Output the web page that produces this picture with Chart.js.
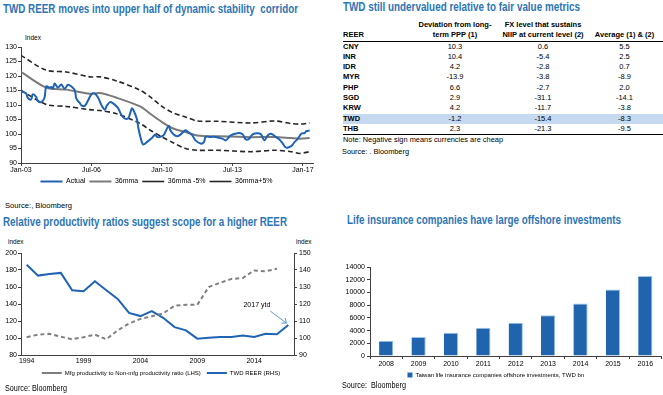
<!DOCTYPE html>
<html>
<head>
<meta charset="utf-8">
<script src="https://cdn.jsdelivr.net/npm/chart.js@4.4.1/dist/chart.umd.min.js"></script>
<style>
  body { margin: 0; width: 663px; height: 395px; background: #fff; position: relative; overflow: hidden;
         font-family: 'Liberation Sans', Arial, sans-serif; color: #000; }
  .t { position: absolute; white-space: nowrap; transform-origin: 0 50%; }
  .title { font: bold 13px 'Liberation Sans Narrow', 'Liberation Sans', Arial, sans-serif; color: #2e75b6; line-height: 14px; }
  .small { font-size: 7px; line-height: 8px; }
  .src { font-size: 8px; line-height: 9px; }
  canvas { position: absolute; }
  .row { position: absolute; left: 343px; width: 320px; font-size: 7.5px; }
  .row span { position: absolute; top: 0; }
</style>
</head>
<body>

<div class="t title" style="left:3px;top:2px" data-w="295">TWD REER moves into upper half of dynamic stability&nbsp; corridor</div>
<div class="t small" style="left:25px;top:34px;font-size:6.5px">Index</div>
<canvas id="reer" width="330" height="156" style="left:0;top:39px"></canvas>
<div class="t src" style="left:5px;top:201px" data-w="67">Source:, Bloomberg</div>

<div class="t title" style="left:343px;top:0px;font-size:12px" data-w="237">TWD still undervalued relative to fair value metrics</div>
<div id="table"></div>
<div class="t src" style="left:343px;top:134.5px" data-w="160">Note: Negative sign means currencies are cheap</div>
<div class="t src" style="left:341.5px;top:146.5px" data-w="67">Source: . Bloomberg</div>

<div class="t title" style="left:3px;top:214.5px" data-w="284">Relative productivity ratios suggest scope for a higher REER</div>
<div class="t small" style="left:8px;top:238px;font-size:6.5px">index</div>
<div class="t small" style="left:296px;top:238px;font-size:6.5px">index</div>
<canvas id="productivity" width="322" height="140" style="left:0;top:246px"></canvas>
<div class="t src" style="left:5px;top:383px;font-size:9px;line-height:10px" data-w="62">Source: Bloomberg</div>

<div class="t title" style="left:346.5px;top:213px;font-size:12px" data-w="274">Life insurance companies have large offshore investments</div>
<canvas id="insurance" width="333" height="129" style="left:330px;top:259px"></canvas>
<div class="t src" style="left:341.5px;top:380.5px;font-size:8.5px;line-height:9px" data-w="64">Source:&nbsp; Bloomberg</div>

<script>
// REER monthly (months since Jan-03)
const reerMonths = [0, 1, 3, 4, 6, 7, 9, 10, 12, 14, 15, 17, 18, 19, 20, 22, 24, 26, 28, 30, 32, 33, 35, 36, 38, 40,
  42, 44, 46, 48, 50, 51, 53, 55, 57, 58, 60, 62, 64, 66, 67, 69, 70, 72, 73, 75, 78, 80, 81, 83, 85, 86, 88, 89,
  91, 93, 95, 97, 98, 100, 102, 104, 107, 109, 110, 113, 116, 120, 122, 125, 129, 132, 134, 136, 138, 141, 143,
  145, 147, 149, 152, 154, 156, 158, 161, 163, 165, 167, 169, 170, 172];
const reerActual = [114.8, 114.5, 114.0, 112.5, 111.9, 113.7, 112.8, 111.4, 111.0, 112.5, 116.4, 116.0, 116.2, 115.6,
  117.4, 116.0, 117.1, 115.6, 117.0, 116.4, 115.1, 112.2, 110.7, 109.9, 109.7, 111.6, 113.7, 113.9, 112.5, 109.9,
  108.4, 109.6, 111.0, 110.5, 109.5, 108.8, 106.4, 105.3, 105.5, 108.8, 108.2, 105.3, 101.9, 97.2, 96.4, 97.2, 98.6,
  99.8, 99.0, 99.0, 99.6, 100.7, 102.8, 101.3, 99.8, 99.2, 99.8, 100.9, 101.3, 100.5, 99.6, 97.8, 96.7, 97.2, 99.0,
  99.0, 99.0, 98.4, 97.8, 99.5, 100.3, 99.9, 98.1, 98.4, 99.9, 100.3, 99.9, 97.8, 99.5, 100.1, 98.9, 98.1, 96.7,
  95.3, 95.8, 97.2, 98.4, 100.1, 100.3, 101.0, 101.2];
const bandMonths = [0, 15, 27, 41, 47, 57, 71, 77, 84, 91, 98, 105, 117, 137, 151, 161, 166, 172];
const reer36mma = [121.4, 116.0, 115.3, 113.9, 114.1, 112.5, 109.5, 107.0, 104.1, 101.8, 100.7, 99.5, 99.2, 98.9, 99.0, 98.6, 98.4, 98.6];
const reerLower = [115.0, 110.2, 109.5, 108.4, 108.1, 107.0, 103.6, 101.3, 99.0, 96.9, 95.0, 94.4, 94.4, 93.9, 94.4, 93.9, 93.3, 93.9];
const reerUpper = [127.1, 122.0, 121.4, 119.7, 119.7, 118.3, 115.1, 112.8, 109.5, 107.2, 105.9, 104.5, 104.4, 103.8, 104.5, 103.6, 103.4, 103.8];
const reerTickMonths = [0, 42, 84, 126, 168];
const reerTickLabels = ['Jan-03', 'Jul-06', 'Jan-10', 'Jul-13', 'Jan-17'];

// fair value table
const currencies = ['CNY', 'INR', 'IDR', 'MYR', 'PHP', 'SGD', 'KRW', 'TWD', 'THB'];
const pppDeviation = [10.3, 10.4, 4.2, -13.9, 6.6, 2.9, 4.2, -1.2, 2.3];
const niipLevel = [0.6, -5.4, -2.8, -3.8, -2.7, -31.1, -11.7, -15.4, -21.3];
const averageDev = [5.5, 2.5, 0.7, -8.9, 2.0, -14.1, -3.8, -8.3, -9.5];

// productivity vs REER, annual
const years = [1994, 1995, 1996, 1997, 1998, 1999, 2000, 2001, 2002, 2003, 2004, 2005, 2006, 2007, 2008,
  2009, 2010, 2011, 2012, 2013, 2014, 2015, 2016, 2017];
const productivityRatio = [101, 104, 105, 101.5, 98.5, 101, 104, 98.5, 109, 117, 122.5, 125.5, 129, 138, 139,
  139, 160, 165, 169.5, 170.5, 179.5, 178.5, 181.5, null];
const reerAnnual = [143.1, 136.7, 137.7, 138.3, 128.1, 127.5, 133.4, 128.1, 123.0, 114.8, 112.9, 115.8, 111.9,
  106.4, 104.5, 99.6, 100.2, 100.6, 100.6, 101.5, 100.6, 102.5, 102.2, 107.6];

// life insurers offshore investments, TWD bn
const insuranceYears = ['2008', '2009', '2010', '2011', '2012', '2013', '2014', '2015', '2016'];
const offshoreInvestments = [2400, 3000, 3650, 4450, 5250, 6400, 8250, 10450, 12600];

const narrow = "'Liberation Sans Narrow', 'Liberation Sans', Arial, sans-serif";
const plain = "'Liberation Sans', Arial, sans-serif";
const axisColor = '#404040';
const toPoints = (xs, ys) => xs.map((x, i) => ({ x: x, y: ys[i] }));

// table
let html = '';
html += '<div class="row" style="top:19.5px;height:21px;border-bottom:1.5px solid #000;font-weight:bold;line-height:10.5px">'
  + '<span style="left:0;top:10.5px">REER</span>'
  + '<span style="left:67px;width:90px;text-align:center">Deviation from long-<br>term PPP (1)</span>'
  + '<span style="left:157px;width:86px;text-align:center">FX level that sustains<br>NIIP at current level (2)</span>'
  + '<span style="left:243px;width:77px;text-align:center;top:10.5px">Average (1) &amp; (2)</span></div>';
currencies.forEach((c, i) => {
  const top = 41.5 + i * 10.33;
  const bg = c === 'TWD' ? 'background:#c5d9f1;' : '';
  const last = i === currencies.length - 1 ? 'border-bottom:1px solid #000;' : '';
  html += '<div class="row" style="top:' + top + 'px;height:10.33px;line-height:10.33px;' + bg + last + '">'
    + '<span style="left:0;font-weight:bold">' + c + '</span>'
    + '<span style="left:67px;width:90px;text-align:center">' + pppDeviation[i].toFixed(1) + '</span>'
    + '<span style="left:157px;width:86px;text-align:center">' + niipLevel[i].toFixed(1) + '</span>'
    + '<span style="left:243px;width:77px;text-align:center">' + averageDev[i].toFixed(1) + '</span></div>';
});
document.getElementById('table').innerHTML = html;

// REER corridor chart
new Chart(document.getElementById('reer'), {
  type: 'line',
  data: {
    datasets: [
      { label: 'Actual', data: toPoints(reerMonths, reerActual), borderColor: '#1f63b5', borderWidth: 2, tension: 0.35 },
      { label: '36mma', data: toPoints(bandMonths, reer36mma), borderColor: '#7a7a7a', borderWidth: 2, tension: 0.3 },
      { label: '36mma -5%', data: toPoints(bandMonths, reerLower), borderColor: '#262626', borderWidth: 1.6, borderDash: [5, 3], tension: 0.3 },
      { label: '36mma+5%', data: toPoints(bandMonths, reerUpper), borderColor: '#262626', borderWidth: 1.6, borderDash: [5, 3], tension: 0.3 }
    ]
  },
  options: {
    responsive: false, animation: false, events: [],
    layout: { padding: { top: 8, right: 17, left: 0, bottom: 0 } },
    elements: { point: { radius: 0 } },
    plugins: {
      tooltip: { enabled: false },
      legend: {
        position: 'bottom',
        labels: { font: { size: 7, family: narrow }, color: '#000', padding: 4, usePointStyle: true, pointStyle: 'line', pointStyleWidth: 22, boxHeight: 7 }
      }
    },
    scales: {
      x: {
        type: 'linear', min: 0, max: 174,
        afterFit: (s) => { s.height = 11; },
        afterBuildTicks: (s) => { s.ticks = reerTickMonths.map((v) => ({ value: v })); },
        grid: { drawOnChartArea: false, tickLength: 3, color: axisColor },
        border: { color: axisColor },
        ticks: { maxRotation: 0, padding: 0, font: { size: 7, family: narrow }, color: '#000',
          callback: (v) => reerTickLabels[reerTickMonths.indexOf(v)] }
      },
      y: {
        min: 90, max: 130,
        afterFit: (s) => { s.width = 21; },
        grid: { drawOnChartArea: false, tickLength: 3, color: axisColor },
        border: { color: axisColor },
        ticks: { stepSize: 5, padding: 1, font: { size: 7, family: narrow }, color: '#000' }
      }
    }
  }
});

// "2017 ytd" note with arrow
const ytdNote = {
  id: 'ytdNote',
  afterDatasetsDraw(chart) {
    const meta = chart.getDatasetMeta(1);
    const pt = meta.data[meta.data.length - 1];
    const ctx = chart.ctx;
    ctx.save();
    ctx.font = '7px ' + narrow;
    ctx.fillStyle = '#000';
    ctx.textAlign = 'right';
    ctx.textBaseline = 'middle';
    ctx.fillText('2017 ytd', pt.x - 18, pt.y - 20);
    ctx.strokeStyle = '#5b9bd5';
    ctx.lineWidth = 1;
    ctx.beginPath();
    ctx.moveTo(pt.x - 18, pt.y - 14);
    ctx.lineTo(pt.x - 2, pt.y - 2);
    ctx.moveTo(pt.x - 7, pt.y - 2);
    ctx.lineTo(pt.x - 2, pt.y - 2);
    ctx.lineTo(pt.x - 3, pt.y - 7);
    ctx.stroke();
    ctx.restore();
  }
};

new Chart(document.getElementById('productivity'), {
  type: 'line',
  data: {
    labels: years.map(String),
    datasets: [
      { label: 'Mfg productivity to Non-mfg productivity ratio (LHS)', data: productivityRatio, yAxisID: 'y',
        borderColor: '#7f7f7f', borderWidth: 2, borderDash: [4, 3] },
      { label: 'TWD REER (RHS)', data: reerAnnual, yAxisID: 'y1', borderColor: '#1f63b5', borderWidth: 2 }
    ]
  },
  plugins: [ytdNote],
  options: {
    responsive: false, animation: false, events: [],
    layout: { padding: { top: 7, right: 0, left: 0, bottom: 0 } },
    elements: { point: { radius: 0 }, line: { tension: 0 } },
    plugins: {
      tooltip: { enabled: false },
      legend: {
        position: 'bottom',
        labels: { font: { size: 6, family: narrow }, color: '#000', padding: 6, usePointStyle: true, pointStyle: 'line', pointStyleWidth: 20, boxHeight: 6 }
      }
    },
    scales: {
      x: {
        offset: true,
        afterFit: (s) => { s.height = 9; },
        grid: { display: false, tickLength: 2 },
        border: { color: axisColor },
        ticks: { autoSkip: false, maxRotation: 0, padding: 0, font: { size: 7, family: narrow }, color: '#000',
          callback: (v, i) => (i % 5 === 0 ? years[i] : '') }
      },
      y: {
        position: 'left', min: 80, max: 200,
        afterFit: (s) => { s.width = 21; },
        grid: { drawOnChartArea: false, tickLength: 3, color: axisColor },
        border: { color: axisColor },
        ticks: { stepSize: 20, padding: 1, font: { size: 7, family: narrow }, color: '#000' }
      },
      y1: {
        position: 'right', min: 90, max: 150,
        afterFit: (s) => { s.width = 28; },
        grid: { drawOnChartArea: false, tickLength: 3, color: axisColor },
        border: { color: axisColor },
        ticks: { stepSize: 10, padding: 2, font: { size: 7, family: narrow }, color: '#000' }
      }
    }
  }
});

new Chart(document.getElementById('insurance'), {
  type: 'bar',
  data: {
    labels: insuranceYears,
    datasets: [{
      label: 'Taiwan life insurance companies offshore investments, TWD bn',
      data: offshoreInvestments,
      backgroundColor: '#1f64ad',
      borderColor: '#9dc3e6',
      borderWidth: { top: 1, right: 1, left: 0, bottom: 0 },
      categoryPercentage: 1,
      barPercentage: 0.44
    }]
  },
  options: {
    responsive: false, animation: false, events: [],
    layout: { padding: { top: 8, right: 1.5, left: 0, bottom: 0 } },
    plugins: {
      tooltip: { enabled: false },
      legend: {
        position: 'bottom',
        labels: { font: { size: 6, family: narrow }, color: '#000', padding: 4, boxWidth: 5, boxHeight: 5 }
      }
    },
    scales: {
      x: {
        afterFit: (s) => { s.height = 12; },
        grid: { drawOnChartArea: false, tickLength: 3, color: axisColor },
        border: { color: axisColor },
        ticks: { maxRotation: 0, padding: 1, font: { size: 7, family: plain }, color: '#000' }
      },
      y: {
        min: 0, max: 14000,
        afterFit: (s) => { s.width = 40; },
        grid: { drawOnChartArea: false, tickLength: 3, color: axisColor },
        border: { color: axisColor },
        ticks: { stepSize: 2000, padding: 2, font: { size: 7, family: plain }, color: '#000', callback: (v) => String(v) }
      }
    }
  }
});

// squeeze text to the widths in the picture
document.querySelectorAll('[data-w]').forEach((el) => {
  const w = el.getBoundingClientRect().width;
  el.style.transform = 'scaleX(' + (Number(el.dataset.w) / w) + ')';
});
</script>
</body>
</html>
